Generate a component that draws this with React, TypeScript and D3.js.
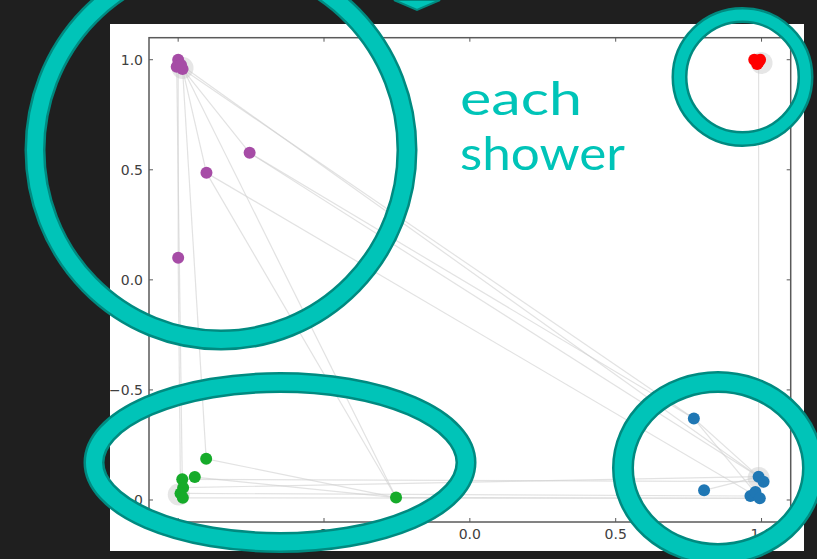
import React from "react";
import * as d3 from "d3";

// Hit positions per shower (normalised detector coordinates)
const purpleX = [-1.0, -1.005, -0.985, -0.99, -0.903, -0.755, -1.0];
const purpleY = [1.0, 0.968, 0.958, 0.976, 0.486, 0.577, 0.1];
const redX = [0.975, 0.995, 0.985, 0.99];
const redY = [1.0, 1.0, 0.98, 0.99];
const greenX = [-0.904, -0.943, -0.986, -0.983, -0.992, -0.984, -0.253];
const greenY = [-0.813, -0.896, -0.906, -0.944, -0.97, -0.99, -0.989];
const blueX = [0.768, 0.803, 0.99, 1.007, 0.962, 0.979, 0.994];
const blueY = [-0.63, -0.956, -0.894, -0.917, -0.982, -0.964, -0.992];

// Shower centroids (drawn as soft halos)
const hubX = [-0.985, 1.0, -0.998, 0.99];
const hubY = [0.962, 0.985, -0.975, -0.9];

// Graph edges between hits
const edges: [string, string][] = [
  ["p2", "p4"], ["p2", "p5"], ["p0", "p6"], ["p1", "g2"], ["p6", "g4"],
  ["p2", "g0"], ["p4", "g6"], ["p3", "g6"],
  ["p2", "b0"], ["p5", "b2"], ["p4", "b6"], ["p5", "b0"], ["p3", "b2"],
  ["g2", "b3"], ["g3", "b2"], ["g4", "b4"], ["g6", "b6"], ["g5", "b6"],
  ["g0", "g6"], ["g1", "g6"], ["g1", "g2"],
  ["b0", "b2"], ["b0", "b6"], ["b1", "b2"],
  ["r3", "b2"],
];

const tickValues = [-1.0, -0.5, 0.0, 0.5, 1.0];
const textLines = ["each", "shower"];

const COLORS: Record<string, string> = {
  p: "#a64ca6",
  r: "#ff0000",
  g: "#16ab2a",
  b: "#1f77b4",
};

const TEAL = "#00c4b8";
const TEAL_DARK = "#008a80";

export default function App() {
  const W = 817;
  const H = 559;
  const left = 149, right = 790.7, top = 37.7, bottom = 522;

  const x = d3.scaleLinear().domain([-1.1, 1.1]).range([left, right]);
  const y = d3.scaleLinear().domain([-1.1, 1.1]).range([bottom, top]);
  const fmt = d3.format(".1f");

  const groups: Record<string, { xs: number[]; ys: number[] }> = {
    p: { xs: purpleX, ys: purpleY },
    r: { xs: redX, ys: redY },
    g: { xs: greenX, ys: greenY },
    b: { xs: blueX, ys: blueY },
  };
  const pos = (id: string) => {
    const g = groups[id[0]];
    const i = +id.slice(1);
    return [x(g.xs[i]), y(g.ys[i])];
  };

  const ring = (cx: number, cy: number, rx: number, ry: number, w: number, key: string) => (
    <g key={key}>
      <ellipse cx={cx} cy={cy} rx={rx} ry={ry} fill="none" stroke={TEAL_DARK} strokeWidth={w} />
      <ellipse cx={cx} cy={cy} rx={rx} ry={ry} fill="none" stroke={TEAL} strokeWidth={w - 5} />
    </g>
  );

  return (
    <svg
      width={W}
      height={H}
      style={{ position: "absolute", left: 0, top: 0, background: "#1f1f1f" }}
    >
      <rect x={0} y={0} width={W} height={H} fill="#1f1f1f" />
      <rect x={110} y={24} width={694} height={527} fill="#ffffff" />

      {/* edges */}
      <g stroke="#cfcfcf" strokeOpacity={0.6} strokeWidth={1.2}>
        {edges.map(([a, b], i) => {
          const [x1, y1] = pos(a);
          const [x2, y2] = pos(b);
          return <line key={i} x1={x1} y1={y1} x2={x2} y2={y2} />;
        })}
      </g>

      {/* centroid halos */}
      {hubX.map((hx, i) => (
        <circle key={"h" + i} cx={x(hx)} cy={y(hubY[i])} r={11} fill="#c8c8c8" fillOpacity={0.45} />
      ))}

      {/* hits */}
      {Object.entries(groups).map(([k, g]) =>
        g.xs.map((vx, i) => (
          <circle key={k + i} cx={x(vx)} cy={y(g.ys[i])} r={6} fill={COLORS[k]} />
        ))
      )}

      {/* frame */}
      <rect x={left} y={top} width={right - left} height={bottom - top} fill="none" stroke="#5a5a5a" strokeWidth={1.5} />
      <g stroke="#5a5a5a" strokeWidth={1}>
        {tickValues.map((t) => (
          <g key={"t" + t}>
            <line x1={x(t)} x2={x(t)} y1={top} y2={top + 4} />
            <line x1={x(t)} x2={x(t)} y1={bottom} y2={bottom - 4} />
            <line x1={left} x2={left + 4} y1={y(t)} y2={y(t)} />
            <line x1={right} x2={right - 4} y1={y(t)} y2={y(t)} />
          </g>
        ))}
      </g>
      <g fontFamily="DejaVu Sans" fontSize={14} fill="#404040">
        {tickValues.map((t) => (
          <text key={"yl" + t} x={left - 6} y={y(t)} dy="0.35em" textAnchor="end">
            {fmt(t)}
          </text>
        ))}
        {tickValues.map((t) => (
          <text key={"xl" + t} x={x(t)} y={539} textAnchor="middle">
            {fmt(t)}
          </text>
        ))}
      </g>

      {/* annotation */}
      <g fontFamily="Lato, 'Open Sans', sans-serif" fontWeight={400} fontSize={47} fill={TEAL}>
        <text x={460} y={115} textLength={122} lengthAdjust="spacingAndGlyphs">{textLines[0]}</text>
        <text x={460} y={170} textLength={165} lengthAdjust="spacingAndGlyphs">{textLines[1]}</text>
      </g>

      {ring(221, 150, 186, 190, 21, "e1")}
      {ring(280, 462.5, 186, 80, 21, "e2")}
      {ring(718, 468, 95, 86, 22, "e3")}
      {ring(742.5, 77, 63, 62, 16, "e4")}

      <polygon points="394,0 440,0 417,10" fill={TEAL} stroke={TEAL_DARK} strokeWidth={2} />
    </svg>
  );
}
